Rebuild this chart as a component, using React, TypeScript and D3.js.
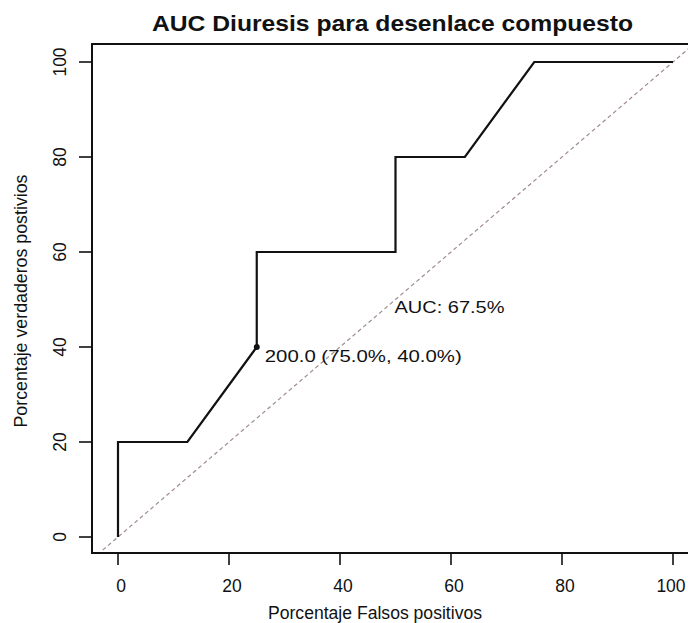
import React from "react";
import * as d3 from "d3";

const fpr = [0, 0, 12.5, 25, 25, 50, 50, 62.5, 75, 100];
const tpr = [0, 20, 20, 40, 60, 60, 80, 80, 100, 100];
const xTicks = [0, 20, 40, 60, 80, 100];
const yTicks = [0, 20, 40, 60, 80, 100];
const bestPoint = { fpr: 25, tpr: 40, label: "200.0 (75.0%, 40.0%)" };
const aucLabel = "AUC: 67.5%";
const aucPos = { x: 50, y: 50 };
const title = "AUC Diuresis para desenlace compuesto";
const xTitle = "Porcentaje Falsos positivos";
const yTitle = "Porcentaje verdaderos postivios";

const W = 688;
const H = 623;
const L = 92, R = 692, T = 44, B = 553;
const FONT = "'Liberation Sans', Arial, Helvetica, sans-serif";

export default function App() {
  const x = d3.scaleLinear().domain([0, 100]).range([118, 673]);
  const y = d3.scaleLinear().domain([0, 100]).range([537, 62]);
  const pts: [number, number][] = fpr.map((f, i) => [f, tpr[i]]);
  const line = d3.line<[number, number]>().x((d) => x(d[0])).y((d) => y(d[1]));
  const xLo = x.invert(L), xHi = x.invert(R);
  return (
    <svg width={W} height={H} style={{ position: "absolute", left: 0, top: 0, background: "#fff" }} fontFamily={FONT}>
      <defs>
        <clipPath id="plot">
          <rect x={L} y={T} width={R - L} height={B - T} />
        </clipPath>
      </defs>
      <text x={392.5} y={31} textAnchor="middle" fontSize={22} fontWeight="bold" fill="#111"
        textLength={481} lengthAdjust="spacingAndGlyphs">{title}</text>
      <g clipPath="url(#plot)">
        <line x1={x(xLo)} y1={y(xLo)} x2={x(xHi)} y2={y(xHi)} stroke="#a08c8c" strokeWidth={1.2} strokeDasharray="4,3" />
        <path d={line(pts) || ""} fill="none" stroke="#111" strokeWidth={2.2} strokeLinejoin="miter" />
      </g>
      <circle cx={x(bestPoint.fpr)} cy={y(bestPoint.tpr)} r={3} fill="#111" />
      <text x={x(bestPoint.fpr) + 8} y={y(bestPoint.tpr) + 15} fontSize={17} fill="#111"
        textLength={197} lengthAdjust="spacingAndGlyphs">{bestPoint.label}</text>
      <text x={x(aucPos.x) - 1} y={y(aucPos.y) + 13} fontSize={17} fill="#111"
        textLength={110} lengthAdjust="spacingAndGlyphs">{aucLabel}</text>
      <rect x={L} y={T} width={R - L} height={B - T} fill="none" stroke="#111" strokeWidth={2} />
      {xTicks.map((t) => (
        <g key={"x" + t}>
          <line x1={x(t)} x2={x(t)} y1={B} y2={B + 12} stroke="#111" strokeWidth={1.6} />
          <text x={Math.min(x(t) + 3, W - 17)} y={B + 39} textAnchor="middle" fontSize={17.5} fill="#111">{t}</text>
        </g>
      ))}
      {yTicks.map((t) => (
        <g key={"y" + t}>
          <line x1={L - 13} x2={L} y1={y(t)} y2={y(t)} stroke="#111" strokeWidth={1.6} />
          <text transform={`translate(${66},${y(t)}) rotate(-90)`} textAnchor="middle" fontSize={17.5} fill="#111">{t}</text>
        </g>
      ))}
      <text x={375} y={619} textAnchor="middle" fontSize={17.5} fill="#111"
        textLength={214} lengthAdjust="spacingAndGlyphs">{xTitle}</text>
      <text transform={`translate(27,${301}) rotate(-90)`} textAnchor="middle" fontSize={17.5} fill="#111"
        textLength={253} lengthAdjust="spacingAndGlyphs">{yTitle}</text>
    </svg>
  );
}
